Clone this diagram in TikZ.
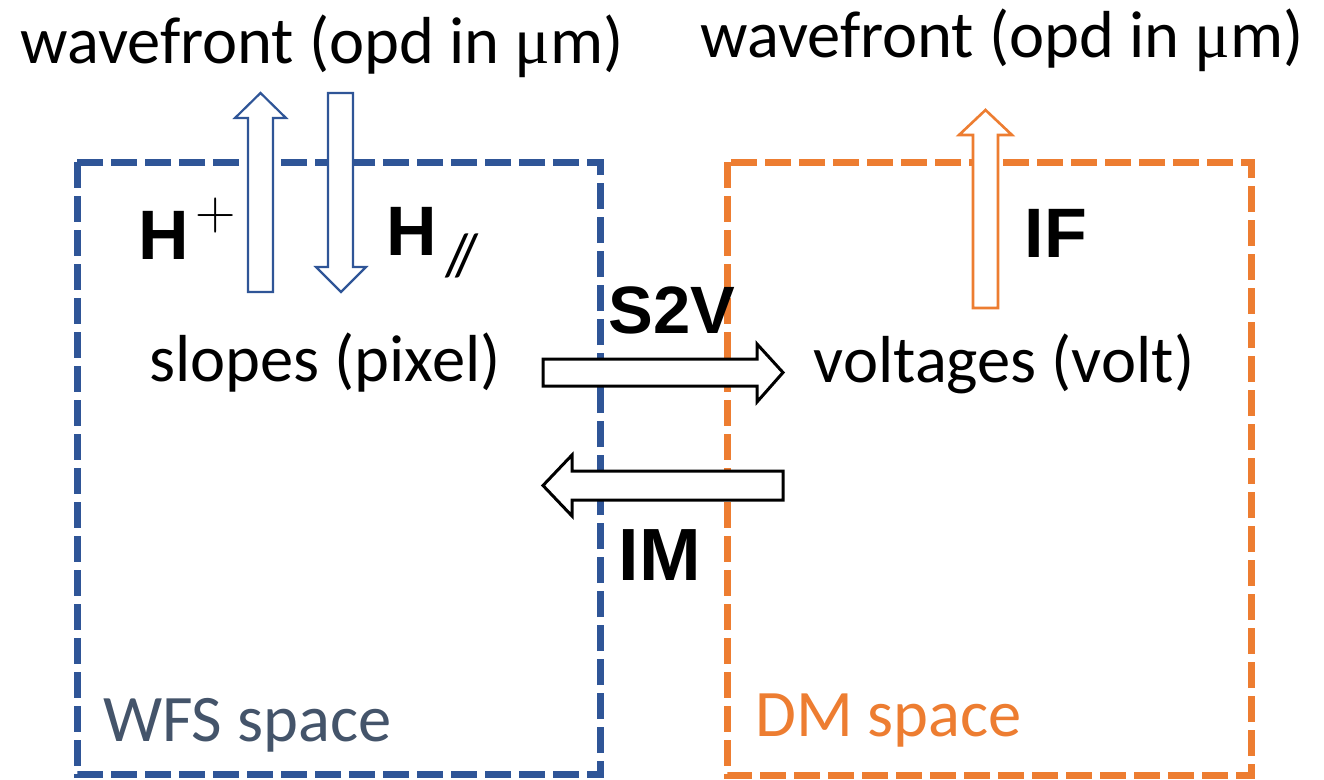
\documentclass[tikz,border=0pt]{standalone}
\usepackage{fontspec}
\setmainfont{Carlito}
\newfontfamily\boldsans{Liberation Sans}
\newfontfamily\mufont{Liberation Serif}
\newfontfamily\lmfont{Latin Modern Roman}
\definecolor{wfsblue}{HTML}{2F5597}
\definecolor{dmorange}{HTML}{ED7D31}
\definecolor{slategray}{HTML}{44546A}
\tikzset{
  spacebox/.style={line width=7pt, dash pattern=on 26pt off 8pt},
  txt/.style={inner sep=0pt, anchor=base, font=\fontsize{66.5}{70}\selectfont},
  lbl/.style={inner sep=0pt, anchor=base, font=\fontsize{70}{75}\selectfont\boldsans\bfseries},
  blockarrow/.style={fill=white, line width=2.2pt, line join=miter},
}
\begin{document}
\begin{tikzpicture}[x=1pt,y=-1pt]
\useasboundingbox (0,0) rectangle (1324,779);
% spaces
\draw[spacebox, draw=wfsblue] (77,162) rectangle (600,774);
\draw[spacebox, draw=dmorange] (727,162) rectangle (1251,775);
% texts
\node[txt] (wf1) at (322,63) {wavefront (opd in {\mufont μ}m)};
\node[txt] (wf2) at (1002,57) {wavefront (opd in {\mufont μ}m)};
\node[txt] (slopes) at (325,381) {slopes (pixel)};
\node[txt] (volt) at (1004,382) {voltages (volt)};
\node[txt, anchor=base west, text=slategray] (wfs) at (103,741) {WFS space};
\node[txt, anchor=base west, text=dmorange] (dm) at (755,736) {DM space};
% labels
\node[lbl] (H1) at (164,259) {H};
\node[inner sep=0pt, font=\fontsize{56}{60}\selectfont\lmfont] (plus) at (216,216) {+};
\node[lbl] (H2) at (412,255) {H};
\node[inner sep=0pt, font=\fontsize{60}{64}\selectfont] (par) at (462,256) {/\kern-13pt/};
\node[lbl, font=\fontsize{67}{70}\selectfont\boldsans\bfseries] (s2v) at (672,333) {S2V};
\node[lbl, font=\fontsize{74}{78}\selectfont\boldsans\bfseries] (im) at (660,580) {IM};
\node[lbl] (IF) at (1056,257) {IF};
% block arrows
\draw[blockarrow, draw=wfsblue] (248,292) -- (248,118) -- (235,118) -- (260.5,93) -- (286,118) -- (273,118) -- (273,292) -- cycle;
\draw[blockarrow, draw=wfsblue] (328,93) -- (328,267) -- (316,267) -- (341,292) -- (366,267) -- (353,267) -- (353,93) -- cycle;
\draw[blockarrow, draw=dmorange, line width=2.6pt] (973,308) -- (973,135) -- (959,135) -- (985.5,110) -- (1012,135) -- (998,135) -- (998,308) -- cycle;
\draw[blockarrow, draw=black, line width=3pt] (543,359) -- (757,359) -- (757,344) -- (783,372.5) -- (757,402) -- (757,386) -- (543,386) -- cycle;
\draw[blockarrow, draw=black, line width=3pt] (783,471) -- (572,471) -- (572,455) -- (543,485.5) -- (572,516) -- (572,500) -- (783,500) -- cycle;
\end{tikzpicture}
\end{document}
